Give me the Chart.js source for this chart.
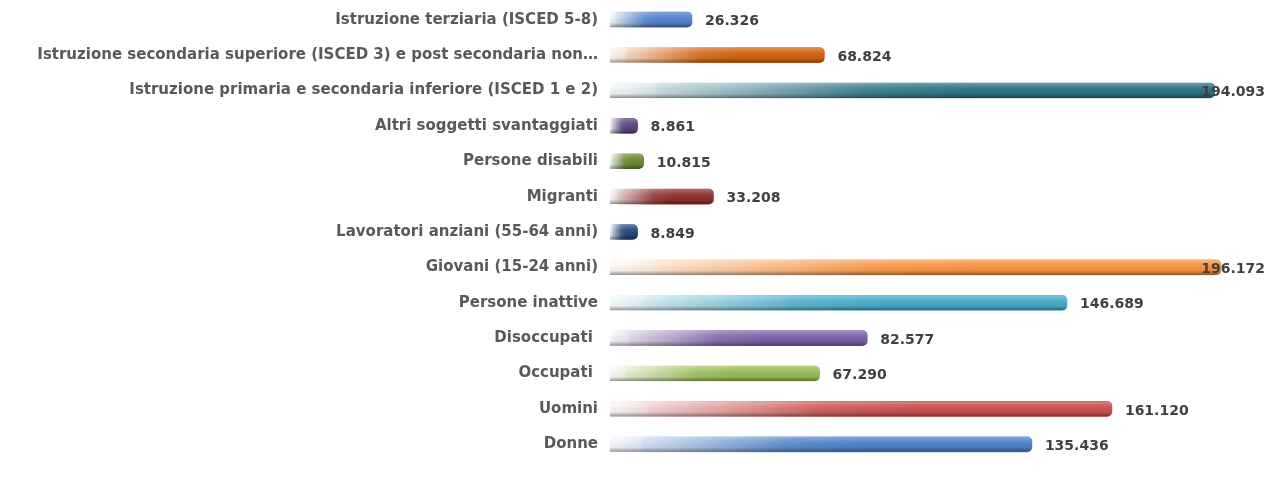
<!DOCTYPE html>
<html>
<head>
<meta charset="utf-8">
<script src="https://cdn.jsdelivr.net/npm/chart.js@4/dist/chart.umd.min.js"></script>
<style>
  html, body { margin: 0; padding: 0; background: #fff; }
  #wrap { width: 1266px; height: 482px; position: relative; }
</style>
</head>
<body>
<div id="wrap"><canvas id="barChart"></canvas></div>
<script>
const categories = [
    'Istruzione terziaria (ISCED 5-8)',
    'Istruzione secondaria superiore (ISCED 3) e post secondaria non…',
    'Istruzione primaria e secondaria inferiore (ISCED 1 e 2)',
    'Altri soggetti svantaggiati',
    'Persone disabili',
    'Migranti',
    'Lavoratori anziani (55-64 anni)',
    'Giovani (15-24 anni)',
    'Persone inattive',
    'Disoccupati ',
    'Occupati ',
    'Uomini',
    'Donne'
];
const values = [26326, 68824, 194093, 8861, 10815, 33208, 8849, 196172, 146689, 82577, 67290, 161120, 135436];
const barColors = [
    '#4f81c9', '#d2600e', '#2b7283', '#5c4680', '#6a8a32', '#8e302f', '#24497a',
    '#f7923f', '#47abc8', '#7d60a6', '#96bd52', '#c9504e', '#4c80c6'
];

function hexToRgb(hex) {
    const n = parseInt(hex.slice(1), 16);
    return [(n >> 16) & 255, (n >> 8) & 255, n & 255];
}

function fmt(v) {
    return (v / 1000).toFixed(3);
}

// fading fill along the bar, strongest at the end
function barFill(context) {
    const chart = context.chart;
    const color = barColors[context.dataIndex];
    if (!chart.chartArea) return color;
    const x = chart.scales.x;
    const x0 = x.getPixelForValue(0);
    const x1 = x.getPixelForValue(context.raw);
    const [r, g, b] = hexToRgb(color);
    const grad = chart.ctx.createLinearGradient(x0, 0, x1, 0);
    grad.addColorStop(0, `rgba(${r},${g},${b},0.04)`);
    grad.addColorStop(0.07, `rgba(${r},${g},${b},0.18)`);
    grad.addColorStop(0.08, `rgba(${r},${g},${b},0.25)`);
    grad.addColorStop(0.42, `rgba(${r},${g},${b},0.9)`);
    grad.addColorStop(0.6, `rgba(${r},${g},${b},1)`);
    grad.addColorStop(1, `rgba(${r},${g},${b},1)`);
    return grad;
}

const cylinderPlugin = {
    id: 'cylinder',
    afterDatasetsDraw(chart) {
        const ctx = chart.ctx;
        const meta = chart.getDatasetMeta(0);
        ctx.save();
        meta.data.forEach(bar => {
            const top = bar.y - bar.height / 2;
            const bottom = bar.y + bar.height / 2;
            const grad = ctx.createLinearGradient(0, top, 0, bottom);
            grad.addColorStop(0, 'rgba(255,255,255,0.3)');
            grad.addColorStop(0.3, 'rgba(255,255,255,0.08)');
            grad.addColorStop(0.7, 'rgba(0,0,0,0.04)');
            grad.addColorStop(1, 'rgba(0,0,0,0.4)');
            ctx.fillStyle = grad;
            ctx.beginPath();
            ctx.roundRect(bar.base, top, bar.x - bar.base, bar.height, [0, 5, 5, 0]);
            ctx.fill();
        });
        ctx.restore();
    }
};

const valueLabels = {
    id: 'valueLabels',
    afterDraw(chart) {
        const ctx = chart.ctx;
        const meta = chart.getDatasetMeta(0);
        ctx.save();
        ctx.font = 'bold 14px "DejaVu Sans", sans-serif';
        ctx.fillStyle = '#404040';
        ctx.textBaseline = 'middle';
        meta.data.forEach((bar, i) => {
            const text = fmt(values[i]);
            const w = ctx.measureText(text).width;
            const x = Math.min(bar.x + 13, chart.width - w - 1);
            ctx.fillText(text, x, bar.y + 2);
        });
        ctx.restore();
    }
};

new Chart(document.getElementById('barChart'), {
    type: 'bar',
    data: {
        labels: categories,
        datasets: [{
            data: values,
            backgroundColor: barFill,
            barThickness: 15,
            borderRadius: { topRight: 5, bottomRight: 5 },
            borderSkipped: 'start'
        }]
    },
    options: {
        indexAxis: 'y',
        responsive: true,
        maintainAspectRatio: false,
        animation: false,
        layout: { padding: { top: 2, bottom: 20, left: 0, right: 33 } },
        plugins: {
            legend: { display: false },
            tooltip: { enabled: false }
        },
        scales: {
            x: { display: false, min: 0, max: 200000 },
            y: {
                grid: { display: false },
                border: { display: false },
                afterFit(scale) {
                    scale.width = 610;
                    scale.paddingTop = 0;
                    scale.paddingBottom = 0;
                },
                ticks: {
                    padding: 4,
                    color: '#595959',
                    font: { family: '"DejaVu Sans", sans-serif', weight: 'bold', size: 15 }
                }
            }
        }
    },
    plugins: [cylinderPlugin, valueLabels]
});
</script>
</body>
</html>
